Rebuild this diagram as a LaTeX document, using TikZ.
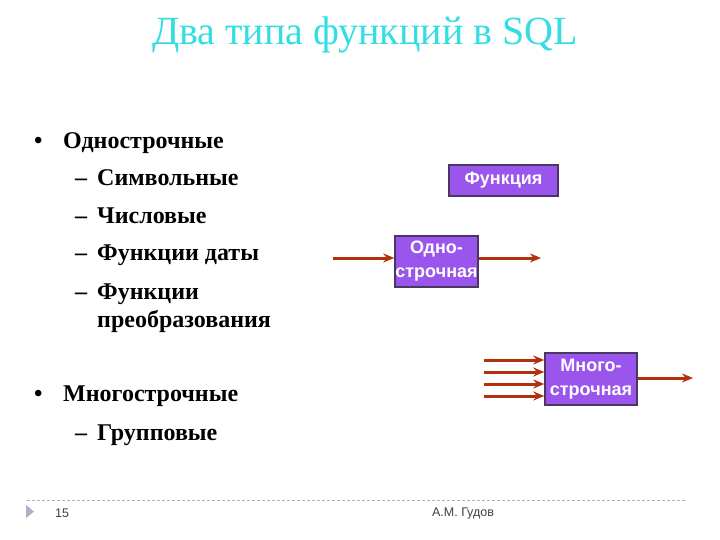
\documentclass[tikz,border=0pt]{standalone}
\usepackage{fontspec}
\setmainfont{Liberation Serif}
\setsansfont{Liberation Sans}
\usetikzlibrary{arrows.meta}
\definecolor{titlecyan}{HTML}{33DDE2}
\definecolor{boxfill}{HTML}{9A55EC}
\definecolor{boxline}{HTML}{4A3862}
\definecolor{arrred}{HTML}{B3300F}
\definecolor{footgray}{HTML}{A8B4C4}
\definecolor{foottext}{HTML}{404040}
\tikzset{
  fbox/.style={draw=boxline, line width=1.5pt, fill=boxfill, text=white,
    font=\sffamily\bfseries\fontsize{18}{24}\selectfont, inner sep=0pt, align=center},
  farr/.style={draw=arrred, line width=3pt, -{Stealth[length=11pt,width=9pt]}},
  lvlone/.style={anchor=base west, inner sep=0pt, font=\bfseries\fontsize{24}{28}\selectfont},
  lvltwo/.style={anchor=base west, inner sep=0pt, font=\bfseries\fontsize{24}{28}\selectfont, align=left},
}
\begin{document}
\begin{tikzpicture}[x=1pt,y=-1pt]
\useasboundingbox (0,0) rectangle (720,540);
% title
\node[font=\fontsize{40}{44}\selectfont, text=titlecyan, anchor=base, inner sep=0pt] (title) at (365,45) {Два типа функций в SQL};
% bullets
\node[lvlone] (b1d) at (34,149) {•};
\node[lvlone] (b1) at (63,149) {Однострочные};
\node[lvltwo] (s1d) at (75,186) {–};
\node[lvltwo] (s1) at (97,186) {Символьные};
\node[lvltwo] (s2d) at (75,223) {–};
\node[lvltwo] (s2) at (97,223) {Числовые};
\node[lvltwo] (s3d) at (75,260) {–};
\node[lvltwo] (s3) at (97,260) {Функции даты};
\node[lvltwo] (s4d) at (75,299) {–};
\node[lvltwo] (s4) at (97,299) {Функции};
\node[lvltwo] (s4b) at (97,327) {преобразования};
\node[lvlone] (b2d) at (34,401) {•};
\node[lvlone] (b2) at (63,401) {Многострочные};
\node[lvltwo] (s5d) at (75,440) {–};
\node[lvltwo] (s5) at (97,440) {Групповые};
% boxes
\node[fbox, minimum width=109pt, minimum height=31pt] (fn) at (503.5,180.5) {Функция};
\node[fbox, minimum width=83pt, minimum height=51pt] (one) at (436.5,261.5) {Одно-\\строчная};
\node[fbox, minimum width=92pt, minimum height=52pt] (many) at (591,379) {Много-\\строчная};
% arrows
\coordinate (oin) at (333,258);
\coordinate (oout) at (541,258);
\draw[farr] (oin) -- (oin -| one.west);
\draw[farr] (oout -| one.east) -- (oout);
\foreach \yy/\nm in {360/a,372/b,384/c,396/d}{
  \coordinate (m\nm) at (484,\yy);
  \draw[farr] (m\nm) -- (m\nm -| many.west);
}
\coordinate (mout) at (693,378);
\draw[farr] (mout -| many.east) -- (mout);
% footer
\coordinate (fl) at (27,500);
\coordinate (fr) at (686,500);
\draw[footgray, line width=0.8pt, dash pattern=on 3pt off 2pt] (fl) -- (fr);
\fill[footgray] (26,505) -- (34,511.5) -- (26,518) -- cycle;
\node[font=\sffamily\fontsize{12.5}{13}\selectfont, text=foottext, anchor=west, inner sep=0pt] (pg) at (55,513) {15};
\node[font=\sffamily\fontsize{12.5}{13}\selectfont, text=foottext] (auth) at (463,513) {А.М. Гудов};
\end{tikzpicture}
\end{document}
